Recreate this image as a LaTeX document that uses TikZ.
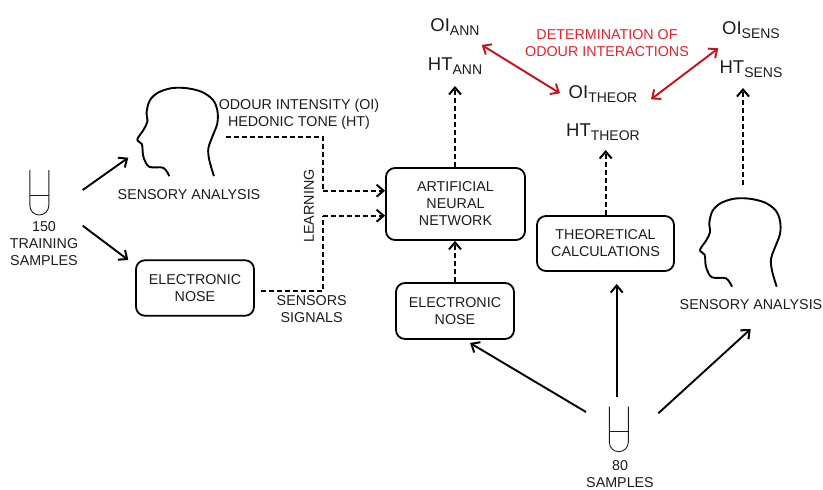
\documentclass[tikz,border=0pt]{standalone}
\usepackage{fontspec}
\setmainfont{Liberation Sans}
\usetikzlibrary{arrows.meta,calc}
\definecolor{ink}{HTML}{1C1C1C}
\definecolor{redline}{HTML}{C8101C}
\definecolor{redtext}{HTML}{E5222C}
\newcommand{\bodyfont}{\fontsize{14.3}{17}\selectfont}
\newcommand{\bigfont}{\fontsize{18.5}{20}\selectfont}
\newcommand{\subfont}{\fontsize{14}{15}\selectfont}
\newcommand{\lbl}[2]{{\bigfont #1}{\raisebox{-4pt}{\subfont #2}}}
\tikzset{
  >={Straight Barb[length=7pt,width=12pt,line width=2pt]},
  txt/.style={font=\bodyfont,text=ink,align=center,inner sep=0pt},
  val/.style={text=ink,inner sep=0pt,anchor=base},
  procbox/.style={draw=black,line width=1.8pt,rounded corners=9pt,inner sep=0pt,font=\bodyfont,text=ink,align=center},
  solidarrow/.style={->,line width=1.9pt,draw=black},
  dasharrow/.style={->,line width=1.8pt,draw=black,dash pattern=on 5.2pt off 2.8pt},
  dashline/.style={line width=1.8pt,draw=black,dash pattern=on 5.2pt off 2.8pt},
  redarrow/.style={{Straight Barb[length=7pt,width=12pt,line width=1.9pt]}-{Straight Barb[length=7pt,width=12pt,line width=1.9pt]},line width=1.9pt,draw=redline},
  headline/.style={line width=1.9pt,draw=black,line join=round},
  tubeline/.style={line width=0.9pt,draw=ink},
  pics/head/.style={code={
    \begin{scope}[x=0.3333pt,y=-0.3333pt]
    \draw[headline] plot[smooth,tension=0.55] coordinates {
      (230,110) (216,62) (213,27) (223,-3) (240,-48) (240,-88) (226,-120) (193,-143)
      (148,-154) (103,-154) (63,-141) (38,-118) (28,-83) (30,-53) (18,-28) (0,0)
      (14,14) (16,37) (20,57) (36,82) (78,85) (96,110)};
    \end{scope}
  }},
  pics/tube/.style={code={
    \begin{scope}[x=1pt,y=-1pt]
    \draw[tubeline] (-9.5,-22.5) -- (-9.5,13) arc[start angle=180,end angle=0,x radius=9.5,y radius=9.5] -- (9.5,-22.5);
    \draw[tubeline] (-9.5,2.5) -- (9.5,2.5);
    \end{scope}
  }}
}
\begin{document}
\begin{tikzpicture}[x=1pt,y=-1pt]
\useasboundingbox (0,0) rectangle (823,490);
\fill[white] (0,0) rectangle (823,490);

% boxes
\node[procbox,minimum width=118pt,minimum height=55.5pt] (en1) at (195,288) {ELECTRONIC\\NOSE};
\node[procbox,minimum width=139pt,minimum height=72pt] (ann) at (455.5,204) {ARTIFICIAL\\NEURAL\\NETWORK};
\node[procbox,minimum width=118pt,minimum height=56pt] (en2) at (455,311) {ELECTRONIC\\NOSE};
\node[procbox,minimum width=137pt,minimum height=55pt] (theo) at (605.5,243.5) {THEORETICAL\\CALCULATIONS};

% heads and tubes
\pic at (137.3,139.5) {head};
\pic at (700,250) {head};
\pic at (39.3,192.5) {tube};
\pic at (618.8,429.2) {tube};

% plain labels
\node[txt] (sa1) at (189,195) {SENSORY ANALYSIS};
\node[txt] (sa2) at (751,304.7) {SENSORY ANALYSIS};
\node[txt] (train) at (44,244) {150\\TRAINING\\SAMPLES};
\node[txt] (samples) at (620,474.5) {80\\SAMPLES};
\node[txt] (oiht) at (299,114.5) {ODOUR INTENSITY (OI)\\HEDONIC TONE (HT)};
\node[txt,rotate=90] (learn) at (309,206) {LEARNING};
\node[txt] (signals) at (311.7,309.5) {SENSORS\\SIGNALS};
\node[txt,text=redtext] (det) at (607,43.5) {DETERMINATION OF\\ODOUR INTERACTIONS};

% output values
\node[val] (oiann) at (455,31.7) {\lbl{OI}{ANN}};
\node[val] (htann) at (455,70) {\lbl{HT}{ANN}};
\node[val] (oith) at (603,98) {\lbl{OI}{THEOR}};
\node[val] (htth) at (603,136.7) {\lbl{HT}{THEOR}};
\node[val] (oise) at (751,34.3) {\lbl{OI}{SENS}};
\node[val] (htse) at (751,73.3) {\lbl{HT}{SENS}};

% free connector ends
\coordinate (t1a) at (82.7,190);
\coordinate (t1b) at (82.7,225.7);
\coordinate (h1in) at (128.3,157.7);
\coordinate (en1in) at (128.3,260);
\coordinate (h1out) at (226,136.7);
\coordinate (t2a) at (586,412);
\coordinate (t2b) at (616.7,396.7);
\coordinate (t2c) at (658.3,413.3);
\coordinate (en2in) at (470,343);
\coordinate (thin) at (616.7,284);
\coordinate (sa2in) at (750.7,329);
\coordinate (annup) at (455,86);
\coordinate (thup) at (605.7,150);
\coordinate (seup) at (743,88);
\coordinate (sefrom) at (743,185);
\coordinate (r1a) at (481.7,45);
\coordinate (r1b) at (560,93.3);
\coordinate (r2a) at (718.3,48.3);
\coordinate (r2b) at (651,99.3);
\coordinate (annw1) at (ann.west |- 0,190.7);
\coordinate (annw2) at (ann.west |- 0,215.7);

% solid arrows
\draw[solidarrow] (t1a) -- (h1in);
\draw[solidarrow] (t1b) -- (en1in);
\draw[solidarrow] (t2a) -- (en2in);
\draw[solidarrow] (t2b) -- (thin);
\draw[solidarrow] (t2c) -- (sa2in);

% dashed arrows
\draw[dashline] (h1out) -- (323,136.7) -- (323,190.7);
\draw[dasharrow] (323,190.7) -- (annw1);
\draw[dashline] (en1.east |- 0,291) ++(6,0) -- (323,291) -- (323,215.7);
\draw[dasharrow] (323,215.7) -- (annw2);
\draw[dasharrow] (ann.north -| annup) -- (annup);
\draw[dasharrow] (en2.north) -- (en2.north |- ann.south);
\draw[dasharrow] (theo.north -| thup) -- (thup);
\draw[dasharrow] (sefrom) -- (seup);

% red arrows
\draw[redarrow] (r1a) -- (r1b);
\draw[redarrow] (r2a) -- (r2b);
\end{tikzpicture}
\end{document}
